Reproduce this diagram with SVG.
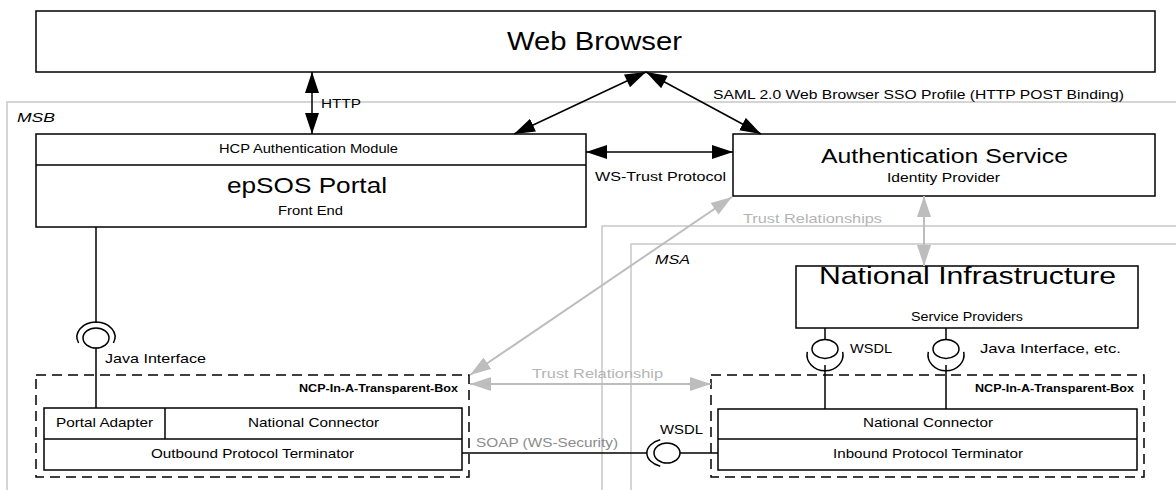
<svg xmlns="http://www.w3.org/2000/svg" width="1176" height="490" viewBox="0 0 1176 490">
<style>
text{font-family:"Liberation Sans",Arial,sans-serif;fill:#000}
.box{fill:#fff;stroke:#000;stroke-width:1.5}
.ln{fill:none;stroke:#000;stroke-width:1.5}
.dash{fill:none;stroke:#000;stroke-width:1.5;stroke-dasharray:10 6}
.region{fill:none;stroke:#c8c8c8;stroke-width:1.5}
.ga{fill:none;stroke:#bdbdbd;stroke-width:2}
.gt{fill:#b4b4b4}
.it{font-style:italic}
.bd{font-weight:bold}
</style>
<defs>
<marker id="ae" markerUnits="userSpaceOnUse" markerWidth="22" markerHeight="16" refX="21" refY="7" orient="auto"><path d="M0,0 L21,7 L0,14 z" fill="#000"/></marker>
<marker id="as" markerUnits="userSpaceOnUse" markerWidth="22" markerHeight="16" refX="0" refY="7" orient="auto"><path d="M21,0 L0,7 L21,14 z" fill="#000"/></marker>
<marker id="ge" markerUnits="userSpaceOnUse" markerWidth="22" markerHeight="16" refX="21" refY="7" orient="auto"><path d="M0,0 L21,7 L0,14 z" fill="#bdbdbd"/></marker>
<marker id="gs" markerUnits="userSpaceOnUse" markerWidth="22" markerHeight="16" refX="0" refY="7" orient="auto"><path d="M21,0 L0,7 L21,14 z" fill="#bdbdbd"/></marker>
</defs>
<rect width="1176" height="490" fill="#fff"/>

<g id="regions">
<path class="region" d="M1180,102 H7 V495"/>
<path class="region" d="M1180,226 H602 V495"/>
<path class="region" d="M1180,244 H631 V495"/>
<text class="it" x="17" y="122" font-size="13" textLength="38" lengthAdjust="spacingAndGlyphs">MSB</text>
<text class="it" x="655" y="264" font-size="13" textLength="35" lengthAdjust="spacingAndGlyphs">MSA</text>
</g>

<g id="web-browser">
<rect class="box" x="36" y="11" width="1119" height="61"/>
<text x="507" y="50" font-size="26" textLength="175" lengthAdjust="spacingAndGlyphs">Web Browser</text>
</g>

<g id="epsos-portal">
<rect class="box" x="36" y="134" width="550" height="93"/>
<line class="ln" x1="36" y1="165" x2="586" y2="165"/>
<text x="219" y="153" font-size="12" textLength="179" lengthAdjust="spacingAndGlyphs">HCP Authentication Module</text>
<text x="227" y="193" font-size="22" textLength="160" lengthAdjust="spacingAndGlyphs">epSOS Portal</text>
<text x="278" y="215" font-size="12" textLength="65" lengthAdjust="spacingAndGlyphs">Front End</text>
</g>

<g id="authentication-service">
<rect class="box" x="733" y="134" width="422" height="62"/>
<text x="821" y="163" font-size="21" textLength="247" lengthAdjust="spacingAndGlyphs">Authentication Service</text>
<text x="887" y="182" font-size="13" textLength="113" lengthAdjust="spacingAndGlyphs">Identity Provider</text>
</g>

<g id="national-infrastructure">
<rect class="box" x="796" y="266" width="342" height="62"/>
<text x="819" y="284" font-size="23" textLength="297" lengthAdjust="spacingAndGlyphs">National Infrastructure</text>
<text x="911" y="321" font-size="13" textLength="112" lengthAdjust="spacingAndGlyphs">Service Providers</text>
</g>

<g id="ncp-left">
<rect class="dash" x="36" y="375" width="433" height="102"/>
<text class="bd" x="299" y="392" font-size="11" textLength="159" lengthAdjust="spacingAndGlyphs">NCP-In-A-Transparent-Box</text>
<rect class="box" x="44" y="408" width="418" height="62"/>
<line class="ln" x1="44" y1="439" x2="462" y2="439"/>
<line class="ln" x1="165" y1="408" x2="165" y2="439"/>
<text x="56" y="427" font-size="13" textLength="97" lengthAdjust="spacingAndGlyphs">Portal Adapter</text>
<text x="248" y="427" font-size="13" textLength="131" lengthAdjust="spacingAndGlyphs">National Connector</text>
<text x="151" y="458" font-size="13" textLength="203" lengthAdjust="spacingAndGlyphs">Outbound Protocol Terminator</text>
</g>

<g id="ncp-right">
<rect class="dash" x="711" y="375" width="433" height="102"/>
<text class="bd" x="975" y="392" font-size="11" textLength="159" lengthAdjust="spacingAndGlyphs">NCP-In-A-Transparent-Box</text>
<rect class="box" x="718" y="409" width="419" height="61"/>
<line class="ln" x1="718" y1="439" x2="1137" y2="439"/>
<text x="863" y="427" font-size="13" textLength="130" lengthAdjust="spacingAndGlyphs">National Connector</text>
<text x="833" y="458" font-size="13" textLength="190" lengthAdjust="spacingAndGlyphs">Inbound Protocol Terminator</text>
</g>

<g id="connectors">
<line class="ln" x1="312" y1="72" x2="312" y2="134" marker-start="url(#as)" marker-end="url(#ae)"/>
<line class="ln" x1="646" y1="72" x2="514" y2="134" marker-start="url(#as)" marker-end="url(#ae)"/>
<line class="ln" x1="646" y1="72" x2="761" y2="134" marker-start="url(#as)" marker-end="url(#ae)"/>
<line class="ln" x1="586" y1="152" x2="733" y2="152" marker-start="url(#as)" marker-end="url(#ae)"/>
<line class="ga" x1="924" y1="196" x2="924" y2="266" marker-start="url(#gs)" marker-end="url(#ge)"/>
<line class="ga" x1="732" y1="197" x2="470" y2="375" marker-start="url(#gs)" marker-end="url(#ge)"/>
<line class="ga" x1="470" y1="384" x2="711" y2="384" marker-start="url(#gs)" marker-end="url(#ge)"/>

<!-- Java interface socket (left) -->
<line class="ln" x1="96" y1="227" x2="96" y2="323"/>
<path class="ln" d="M78.6,343 A19,15 0 1,1 113.4,343"/>
<ellipse class="ln" cx="96" cy="338" rx="13" ry="10"/>
<line class="ln" x1="96" y1="348" x2="96" y2="408"/>

<!-- SOAP / WSDL socket -->
<line class="ln" x1="462" y1="453" x2="647" y2="453"/>
<path class="ln" d="M660.2,439.8 A20,14 0 0,0 660.2,466.2"/>
<ellipse class="ln" cx="667" cy="453" rx="13" ry="10"/>
<line class="ln" x1="680" y1="453" x2="718" y2="453"/>

<!-- National infrastructure sockets -->
<line class="ln" x1="825" y1="328" x2="825" y2="339.5"/>
<ellipse class="ln" cx="825" cy="349" rx="13" ry="9.5"/>
<path class="ln" d="M807.3,351.8 A18,16 0 1,0 842.7,351.8"/>
<line class="ln" x1="825" y1="365" x2="825" y2="409"/>
<line class="ln" x1="946" y1="328" x2="946" y2="339.5"/>
<ellipse class="ln" cx="946" cy="349" rx="13" ry="9.5"/>
<path class="ln" d="M928.3,351.8 A18,16 0 1,0 963.7,351.8"/>
<line class="ln" x1="946" y1="365" x2="946" y2="409"/>

<text x="321" y="108" font-size="13" textLength="40" lengthAdjust="spacingAndGlyphs">HTTP</text>
<text x="713" y="99" font-size="13" textLength="411" lengthAdjust="spacingAndGlyphs">SAML 2.0 Web Browser SSO Profile (HTTP POST Binding)</text>
<text x="595" y="181" font-size="13" textLength="131" lengthAdjust="spacingAndGlyphs">WS-Trust Protocol</text>
<text class="gt" x="743" y="223" font-size="13" textLength="139" lengthAdjust="spacingAndGlyphs">Trust Relationships</text>
<text class="gt" x="532" y="378" font-size="13" textLength="131" lengthAdjust="spacingAndGlyphs">Trust Relationship</text>
<text x="476" y="447" font-size="13" fill="#8c8c8c" style="fill:#8c8c8c" textLength="142" lengthAdjust="spacingAndGlyphs">SOAP (WS-Security)</text>
<text x="660" y="434" font-size="13" textLength="43" lengthAdjust="spacingAndGlyphs">WSDL</text>
<text x="850" y="353" font-size="13" textLength="42" lengthAdjust="spacingAndGlyphs">WSDL</text>
<text x="980" y="353" font-size="13" textLength="141" lengthAdjust="spacingAndGlyphs">Java Interface, etc.</text>
<text x="105" y="363" font-size="13" textLength="101" lengthAdjust="spacingAndGlyphs">Java Interface</text>
</g>
</svg>
